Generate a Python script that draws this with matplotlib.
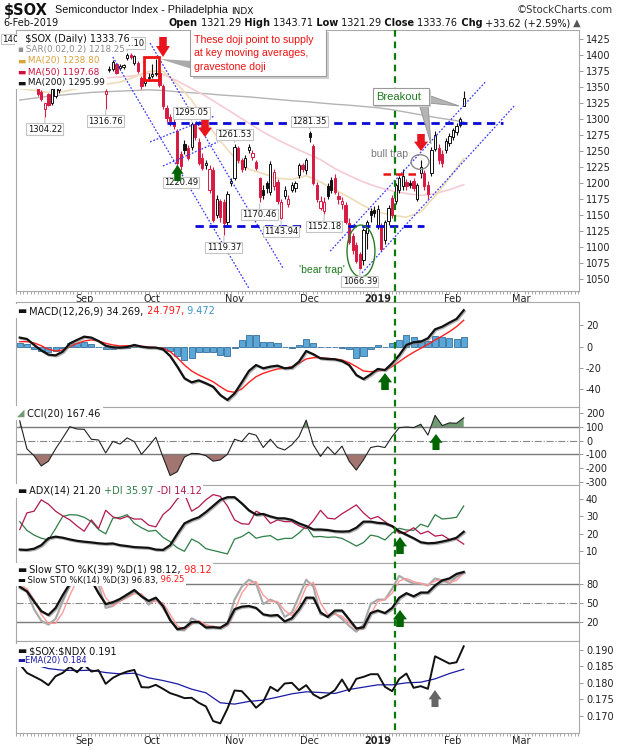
import matplotlib
matplotlib.use("Agg")
import numpy as np
import matplotlib.pyplot as plt
import matplotlib.patheffects as pe
from matplotlib.patches import Rectangle, Ellipse, Polygon
from matplotlib.lines import Line2D
from matplotlib.offsetbox import TextArea, HPacker, AnnotationBbox

plt.rcParams['font.family'] = ['DejaVu Sans']
plt.rcParams['axes.unicode_minus'] = False

# x = trading-day number, 0 = 4-Sep-2018, 106 = 6-Feb-2019
month_pos = [0, 19, 42, 63, 82, 103, 122]
month_names = ['Sep', 'Oct', 'Nov', 'Dec', '2019', 'Feb', 'Mar']

# daily candles, sessions -17 .. 106
bar_first = -17
opens = [1372, 1362, 1356, 1354, 1350, 1342, 1316, 1339, 1326, 1337,
         1345, 1360, 1370, 1378, 1386, 1380, 1392, 1388, 1374, 1368,
         1362, 1364, 1360, 1340, 1377, 1379, 1386, 1380, 1382, 1395,
         1400, 1388, 1388, 1364, 1356, 1364, 1368, 1370, 1372, 1352,
         1318, 1304, 1296, 1282, 1245, 1262, 1255, 1256, 1292, 1265,
         1240, 1228, 1190, 1220, 1150, 1172, 1170, 1140, 1200, 1208,
         1255, 1236, 1225, 1252, 1241, 1233, 1208, 1190, 1200, 1186,
         1195, 1202, 1145, 1180, 1168, 1190, 1192, 1213, 1228, 1220,
         1279, 1259, 1198, 1162, 1156, 1195, 1205, 1208, 1180, 1168,
         1166, 1138, 1118, 1103, 1090, 1080, 1122, 1156, 1158, 1135,
         1132, 1112, 1141, 1177, 1172, 1190, 1196, 1202, 1200, 1204,
         1176, 1216, 1216, 1198, 1216, 1254, 1255, 1245, 1252, 1263,
         1273, 1280, 1291, 1321.29]
highs = [1380, 1366, 1362, 1360, 1352, 1345, 1326, 1341, 1349, 1355,
         1360, 1372, 1380, 1390, 1395, 1392, 1400, 1392, 1380, 1372,
         1370, 1368, 1366, 1347, 1384, 1392, 1388, 1387, 1386, 1404.10,
         1403, 1401, 1391, 1368, 1366, 1372, 1386, 1394, 1375, 1355,
         1322, 1308, 1300, 1285, 1250, 1268, 1260, 1295.05, 1294, 1270,
         1248, 1236, 1228, 1225, 1182, 1176, 1175, 1188, 1208, 1261.53,
         1258, 1240, 1244, 1262, 1252, 1236, 1210, 1198, 1204, 1235,
         1222, 1206, 1175, 1195, 1182, 1202, 1204, 1232, 1232, 1240,
         1281.35, 1262, 1202, 1180, 1178, 1200, 1210, 1214, 1186, 1178,
         1170, 1145, 1122, 1108, 1092, 1130, 1143, 1162, 1165, 1166,
         1138, 1143, 1166, 1182, 1200, 1212, 1222, 1206, 1205, 1208,
         1200, 1236, 1220, 1204, 1256, 1282, 1262, 1252, 1270, 1278,
         1286, 1294, 1304, 1343.71]
lows = [1360, 1350, 1349, 1349, 1336, 1328, 1304.22, 1320, 1322, 1333,
        1341, 1357, 1364, 1372, 1378, 1374, 1384, 1370, 1362, 1358,
        1357, 1356, 1355, 1316.76, 1374, 1376, 1370, 1377, 1378, 1392,
        1394, 1385, 1372, 1348, 1352, 1360, 1365, 1367, 1350, 1316,
        1296, 1290, 1285, 1229, 1220.49, 1245, 1236, 1252, 1268, 1228,
        1220, 1222, 1185, 1140, 1145, 1140, 1119.37, 1135, 1195, 1205,
        1232, 1218, 1220, 1248, 1236, 1220, 1170.46, 1176, 1185, 1182,
        1190, 1168, 1143.94, 1176, 1163, 1186, 1186, 1208, 1218, 1215,
        1265, 1198, 1170, 1158, 1152.18, 1175, 1185, 1184, 1168, 1160,
        1136, 1105, 1090, 1075, 1066.39, 1072, 1098, 1140, 1148, 1128,
        1094, 1105, 1135, 1145, 1168, 1185, 1190, 1190, 1192, 1188,
        1172, 1208, 1190, 1176, 1212, 1250, 1230, 1226, 1248, 1258,
        1268, 1276, 1288, 1321.29]
closes = [1365, 1354, 1352, 1357, 1340, 1332, 1325, 1322, 1347, 1352,
          1358, 1370, 1376, 1386, 1382, 1390, 1387, 1375, 1366, 1362,
          1366, 1359, 1358, 1344, 1379, 1390, 1373, 1383, 1385, 1401,
          1397, 1399, 1375, 1352, 1362, 1366, 1370, 1373, 1354, 1320,
          1302, 1298, 1290, 1232, 1227, 1252, 1240, 1292, 1272, 1232,
          1224, 1231, 1222, 1143, 1175, 1148, 1138, 1184, 1203, 1256,
          1237, 1222, 1240, 1256, 1248, 1224, 1178, 1182, 1193, 1230,
          1218, 1172, 1171, 1190, 1176, 1198, 1200, 1229, 1222, 1236,
          1273, 1201, 1175, 1172, 1171, 1180, 1190, 1187, 1175, 1172,
          1140, 1108, 1095, 1078, 1068, 1127, 1140, 1150, 1153, 1160,
          1097, 1140, 1162, 1150, 1197, 1208, 1212, 1195, 1198, 1192,
          1197, 1226, 1196, 1183, 1252, 1276, 1236, 1232, 1266, 1274,
          1283, 1290, 1300.14, 1333.76]

# moving averages, read every 4th session from -18
ma_first, ma_step = -18, 4
ma20 = [1348, 1345, 1342, 1343, 1348, 1353, 1355, 1358, 1366, 1375,
        1375, 1355, 1330, 1296, 1266, 1240, 1222, 1215, 1208, 1206,
        1212, 1202, 1190, 1178, 1165, 1155, 1150, 1147, 1155, 1180,
        1208, 1238.80]
ma50 = [1375, 1373, 1370, 1368, 1367, 1366, 1365, 1366, 1368, 1372,
        1370, 1360, 1348, 1336, 1322, 1308, 1294, 1280, 1268, 1257,
        1247, 1237, 1223, 1212, 1202, 1194, 1188, 1184, 1181, 1184,
        1190, 1197.68]
ma200 = [1330, 1333, 1336, 1338, 1340, 1342, 1343, 1344, 1345, 1346,
         1345, 1343, 1341.5, 1340, 1338, 1336.5, 1335, 1333, 1331, 1329,
         1327.5, 1325.5, 1323.5, 1322, 1320, 1318, 1315, 1311, 1307, 1303,
         1299.5, 1295.99]

# indicators, read every 2nd session from -18
ind_first, ind_step = -18, 2
macd_line = [8.5, 7.2, 1.6, -3.5, -7.5, -8.2, -4.7, 3.1, 6.3, 9.4,
             8.5, 5.3, 0.9, -0.6, -0.9, -0.3, 1.6, 0.0, -0.9, -0.9,
             -2.5, -8.8, -18.8, -29.8, -33.6, -31.7, -34.5, -37.7, -45.5, -50.2,
             -44.0, -33.6, -22.9, -17.3, -20.4, -18.8, -17.9, -20.4, -19.8, -14.1,
             -4.1, -7.2, -11.0, -11.6, -11.9, -13.5, -17.3, -26.7, -30.5, -26.1,
             -21.0, -22.0, -15.7, -7.9, 1.6, 4.1, 4.7, 7.9, 16.3, 18.8,
             22.6, 26.1, 34.27]
macd_signal = [4.7, 4.7, 3.5, 0.9, -2.5, -4.1, -3.1, 0.0, 3.1, 5.3,
               6.3, 5.3, 3.1, 1.6, 0.6, 0.9, 0.9, 0.3, -0.3, -0.9,
               -1.6, -4.7, -10.4, -17.3, -22.9, -26.7, -29.8, -33.0, -37.7, -41.8,
               -43.0, -39.9, -33.6, -28.3, -25.1, -22.9, -21.0, -20.4, -18.8, -15.7,
               -11.6, -10.4, -10.4, -11.0, -11.6, -12.6, -15.1, -18.8, -22.9, -23.6,
               -22.9, -22.0, -18.8, -14.1, -9.4, -5.3, -1.6, 2.2, 6.3, 10.0,
               14.1, 18.8, 24.80]
macd_hist = [3.8, 2.5, -1.9, -4.4, -5.0, -4.1, -1.6, 3.1, 3.2, 4.1,
             2.2, 0.0, -2.2, -2.2, -1.5, -1.2, 0.7, -0.3, -0.6, 0.0,
             -0.9, -4.1, -8.4, -12.5, -10.7, -5.0, -4.7, -4.7, -7.8, -8.4,
             -1.0, 6.3, 10.7, 11.0, 4.7, 4.1, 3.1, 0.0, -1.0, 1.6,
             7.5, 3.2, -0.6, -0.6, -0.3, -0.9, -2.2, -10.5, -9.0, -2.5,
             1.9, 0.0, 3.1, 6.2, 11.0, 9.4, 6.3, 5.7, 10.0, 8.8,
             8.5, 7.3, 9.47]
cci = [145, -60, -110, -185, -150, -60, 20, 102, 85, 83,
       10, 5, -90, -5, -25, 20, -7, -100, -40, 25,
       -120, -255, -227, -120, -93, -95, -110, -150, -141, -100,
       10, -7, 54, 40, -50, 10, -50, -68, -30, 30,
       150, -30, -115, -45, -100, -40, -150, -215, -140, -50,
       -40, -50, 30, 95, 100, 95, 120, 41, 185, 110,
       130, 127, 167.46]
adx = [11.0, 10.8, 11.5, 13.5, 17.5, 18.4, 17.8, 16.8, 16.0, 15.5,
       15.1, 14.6, 14.3, 14.5, 13.5, 13.0, 12.4, 12.2, 12.0, 11.0,
       10.8, 13.5, 20.0, 26.0, 28.0, 29.5, 32.5, 36.0, 39.5, 41.0,
       41.0, 37.5, 33.5, 31.0, 31.4, 30.0, 28.9, 28.9, 28.0, 26.0,
       24.5, 22.5, 22.5, 22.2, 21.5, 21.3, 21.5, 23.5, 27.0, 27.0,
       26.3, 26.0, 24.5, 21.5, 19.5, 17.5, 15.2, 14.6, 14.8, 15.6,
       16.5, 17.8, 21.20]
plus_di = [27, 22, 19.3, 17.5, 16.5, 23, 30, 31, 30.8, 29.5,
           27, 22.5, 20, 29, 29.5, 31, 26, 23.5, 21.5, 22,
           18, 15.5, 12, 10, 17, 15, 11.5, 10.5, 9.5, 8.5,
           17, 18.4, 21, 17.5, 18.5, 19, 16.5, 17.4, 17.4, 20.5,
           24.5, 18.3, 18.5, 18, 18.2, 17.4, 15.3, 13, 15, 19.3,
           18.5, 16.5, 20.5, 23.2, 22.2, 22, 25.5, 24, 31, 28.5,
           28.9, 29.5, 35.97]
minus_di = [22.5, 32, 33, 39.5, 37, 33, 30.3, 28, 24.5, 21.5,
            28, 23, 33.5, 29.8, 28.5, 30, 28.5, 28.5, 25, 24,
            31, 34.5, 40, 43, 33, 35.5, 39.5, 42.5, 41.5, 36,
            28, 25.8, 25.5, 33, 31, 26, 28, 27, 27, 24.6,
            23, 27.5, 33.5, 29, 28.5, 31.5, 34, 36.6, 32, 28.5,
            30, 27, 24.1, 20.3, 21, 23.5, 20, 21.5, 18.7, 19.3,
            16.8, 16.9, 14.12]
sto39_k = [75, 68, 52, 37, 31, 42, 62, 80, 90, 92,
           85, 65, 48, 51, 56, 63, 70, 60, 53, 58,
           45, 23, 9, 11, 20, 20, 11.5, 12, 11, 18,
           40, 44, 45, 42, 32, 30, 31, 21, 26, 40,
           58, 58, 35, 28, 38, 38, 24, 10, 12, 34,
           38, 34, 42, 58, 65, 60, 66, 66, 77, 85,
           88, 95, 98.12]
sto14_k = [73, 67, 40, 22, 16, 25, 52, 78, 92, 94,
           90, 78, 42, 45, 56, 60, 68, 62, 47, 57,
           42, 24, 8, 7, 26, 20, 13, 13, 11, 18,
           55, 75, 86, 80, 48, 55, 50, 28, 35, 60,
           86, 75, 32, 29, 34, 25, 14, 5, 16, 48,
           55, 55, 72, 92, 85, 80, 80, 77, 88, 85,
           80, 90, 96.83]
sto14_d = [78, 72, 55, 32, 18, 18, 35, 62, 85, 92,
           92, 85, 58, 45, 52, 58, 64, 64, 52, 52,
           50, 32, 14, 8, 17, 22, 16, 13, 12, 14,
           38, 65, 80, 83, 62, 52, 52, 38, 30, 48,
           75, 82, 50, 32, 32, 29, 19, 9, 9, 32,
           52, 55, 65, 84, 88, 83, 80, 78, 84, 86,
           82, 85, 96.25]
sox_ndx = [0.1856, 0.1830, 0.1819, 0.1808, 0.1793, 0.1820, 0.1830, 0.1848, 0.1832, 0.1854,
           0.1834, 0.1838, 0.1797, 0.1815, 0.1826, 0.1834, 0.1839, 0.1787, 0.1786, 0.1794,
           0.1782, 0.1769, 0.1762, 0.1754, 0.1755, 0.1740, 0.1729, 0.1685, 0.1678, 0.1722,
           0.1777, 0.1775, 0.1752, 0.1725, 0.1743, 0.1788, 0.1775, 0.1798, 0.1800, 0.1778,
           0.1793, 0.1765, 0.1753, 0.1763, 0.1778, 0.1810, 0.1775, 0.1812, 0.1818, 0.1826,
           0.1826, 0.1788, 0.1775, 0.1812, 0.1828, 0.1785, 0.1790, 0.1782, 0.1880, 0.1869,
           0.1858, 0.1862, 0.1910]
ema_first = -14
sox_ndx_ema = [0.1855, 0.1843, 0.1838, 0.1837, 0.1838, 0.1831, 0.1827, 0.1829, 0.1815, 0.1807,
               0.1797, 0.1781, 0.1770, 0.1740, 0.1736, 0.1744, 0.1748, 0.1757, 0.1767, 0.1773,
               0.1771, 0.1768, 0.1780, 0.1787, 0.1794, 0.1794, 0.1800, 0.1802, 0.1812, 0.1828,
               0.1841]

# chart notes
label_bars = [-11, 6, 12, 30, 42, 63, 27, 39, 49, 55, 67, 77]
label_values = [1304.22, 1316.76, 1404.10, 1295.05, 1261.53, 1281.35,
                1220.49, 1119.37, 1170.46, 1143.94, 1152.18, 1066.39]
trendlines = [((8.0, 1397.3), (46.0, 1036.0)), ((18.4, 1419.0), (55.5, 1067.7)),
              ((18.4, 1264.7), (36.5, 1305.3)), ((22.0, 1227.0), (37.4, 1264.7)),
              ((68.7, 1094.0), (112.0, 1358.0)), ((77.6, 1060.0), (120.3, 1322.0))]
resistance, support, trap_level = 1294, 1134, 1215
signal_day = 86.8

# ------------------------------------------------------------------ layout
W, H = 620, 750
PX_L, PX_R = 16, 579
X0, X1 = -19.05, 138.2
RED, BLACK = '#d81b43', '#111111'

fig = plt.figure(figsize=(6.2, 7.5), dpi=100)
fig.patch.set_facecolor('white')


def fpt(x, y):
    return x / W, 1 - y / H


def panel(top, bottom, ylim, yticks, ylabels=None):
    a = fig.add_axes([PX_L / W, 1 - bottom / H, (PX_R - PX_L) / W, (bottom - top) / H])
    a.set_xlim(X0, X1)
    a.set_ylim(*ylim)
    a.yaxis.tick_right()
    a.set_yticks(yticks)
    if ylabels:
        a.set_yticklabels(ylabels)
    a.tick_params(axis='y', labelsize=7, length=3, width=0.6, color='#888888', pad=2, labelcolor='#222222')
    a.set_xticks([])
    for s in a.spines.values():
        s.set_color('#a8a8a8')
        s.set_linewidth(0.8)
    return a


def month_axis(a):
    a.set_xticks(month_pos)
    a.set_xticklabels(month_names)
    a.set_xticks(list(range(-19, 139)), minor=True)
    a.tick_params(axis='x', which='major', length=0, labelsize=7, pad=2, labelcolor='#222222')
    a.tick_params(axis='x', which='minor', length=1.8, width=0.6, color='#9a9a9a')
    for t in a.get_xticklabels():
        if t.get_text() == '2019':
            t.set_fontweight('bold')


def rich(x, y, parts, size=7, ha=0.0, bg='white', family=None):
    kids = []
    for txt, col, bold in parts:
        props = dict(color=col, fontsize=size, fontweight='bold' if bold else 'normal')
        if family:
            props['family'] = family
        kids.append(TextArea(txt, textprops=props))
    box = HPacker(children=kids, align='baseline', pad=0, sep=0)
    ab = AnnotationBbox(box, fpt(x, y), xycoords='figure fraction', box_alignment=(ha, 0.5),
                        frameon=bg is not None, pad=0.12, zorder=22)
    if bg is not None:
        ab.patch.set_facecolor(bg)
        ab.patch.set_edgecolor('none')
    fig.add_artist(ab)


def block_arrow(xc, y_tip, y_base, w, color):
    hh = (y_base - y_tip) * 0.55
    sw = w * 0.27
    pts = [(xc, y_tip), (xc + w / 2, y_tip + hh), (xc + sw, y_tip + hh), (xc + sw, y_base),
           (xc - sw, y_base), (xc - sw, y_tip + hh), (xc - w / 2, y_tip + hh)]
    fig.add_artist(Polygon([fpt(*p) for p in pts], closed=True, transform=fig.transFigure,
                           fc=color, ec='none', zorder=25))


def fig_poly(pts, fc, ec='none', z=21, lw=0.6):
    fig.add_artist(Polygon([fpt(*p) for p in pts], closed=True, transform=fig.transFigure,
                           fc=fc, ec=ec, lw=lw, zorder=z))


shadow = [pe.SimpleLineShadow(offset=(0.8, -0.8), shadow_color='#808080', alpha=0.6), pe.Normal()]

bars_x = list(range(bar_first, bar_first + len(closes)))
ma_x = list(range(ma_first, ma_first + ma_step * len(ma20), ma_step))
ind_x = list(range(ind_first, ind_first + ind_step * len(macd_line), ind_step))
ema_x = list(range(ema_first, ema_first + 4 * len(sox_ndx_ema), 4))

# ------------------------------------------------------------------ price panel
ax = panel(30, 291, (1031.7, 1439.5), list(range(1050, 1426, 25)))
month_axis(ax)
ax.plot(ma_x, ma200, color='#b4b4b4', lw=1.0, zorder=2)
ax.plot(ma_x, ma50, color='#f6ccd4', lw=1.2, zorder=2)
ax.plot(ma_x, ma20, color='#efdcb8', lw=1.2, zorder=2)

prev = [opens[0]] + closes[:-1]
edge = [RED if c < p else BLACK for c, p in zip(closes, prev)]
face = ['white' if c >= o else e for o, c, e in zip(opens, closes, edge)]
ax.vlines(bars_x, lows, highs, colors=edge, lw=0.8, zorder=3)
ax.bar(bars_x, [max(abs(c - o), 0.9) for o, c in zip(opens, closes)],
       bottom=[min(o, c) for o, c in zip(opens, closes)], width=0.62,
       color=face, edgecolor=edge, linewidth=0.7, zorder=4)

for (xa, ya), (xb, yb) in trendlines:
    ax.plot([xa, xb], [ya, yb], color='#3535ff', lw=0.9, ls=(0, (1.4, 1.4)), zorder=5)
ax.hlines(resistance, 23, 117, color='#0a0ad8', lw=2, ls=(0, (3, 2)), zorder=5)
ax.hlines(support, 31, 95, color='#0a0ad8', lw=2, ls=(0, (3, 2)), zorder=5)
ax.hlines(trap_level, 83.5, 94, color='#ee1111', lw=1.8, ls=(0, (3, 2)), zorder=5)

ax.add_patch(Rectangle((16.7, 1361.4), 4.2, 35.9, fill=False, ec='#ee1111', lw=2, zorder=6))
ax.add_patch(Ellipse((77.3, 1094.2), 7.8, 81, fill=False, ec='#2a7a2a', lw=1, zorder=6))
ax.add_patch(Ellipse((93.8, 1233.3), 5.0, 23, fill=False, ec='#888888', lw=1, zorder=6))
ax.text(66.4, 1064.8, "'bear trap'", color='#1f7a1f', fontsize=7.5, ha='center', va='center',
        family=['Liberation Sans', 'DejaVu Sans'], zorder=7)
ax.text(85.4, 1245.9, 'bull trap', color='#777777', fontsize=7.5, ha='center', va='center',
        family=['Liberation Sans', 'DejaVu Sans'], zorder=7)

for b, v in zip(label_bars, label_values):
    above = v >= highs[b - bar_first] - 0.01
    ax.annotate(f'{v:.2f}', xy=(b, v), xytext=(0, 9.5 if above else -12.5), textcoords='offset pixels',
                ha='center', va='center', fontsize=6, color='#111111', zorder=7,
                bbox=dict(boxstyle='square,pad=0.15', fc='white', ec='#c4c4c4', lw=0.8),
                arrowprops=dict(arrowstyle='-', color='#c4c4c4', lw=0.8, shrinkA=0, shrinkB=1))

# ------------------------------------------------------------------ MACD
ax2 = panel(302, 407, (-56.8, 42), [-40, -20, 0, 20])
ax2.bar(ind_x, macd_hist, width=1.7, color='#5aa7d8', edgecolor='#1d5b8c', lw=0.5, zorder=2)
ax2.plot(ind_x, macd_signal, color='#ff2020', lw=1.0, zorder=3)
ax2.plot(ind_x, macd_line, color=BLACK, lw=1.6, zorder=4, path_effects=shadow)

# ------------------------------------------------------------------ CCI
ax3 = panel(407, 485, (-324, 246), [-300, -200, -100, 0, 100, 200])
c = np.array(cci, dtype=float)
ax3.fill_between(ind_x, c, 100, where=c > 100, interpolate=True, color='#6f9a72', lw=0, zorder=1)
ax3.fill_between(ind_x, c, -100, where=c < -100, interpolate=True, color='#a37570', lw=0, zorder=1)
ax3.axhline(100, color='#7a7a7a', lw=1, zorder=2)
ax3.axhline(-100, color='#7a7a7a', lw=1, zorder=2)
ax3.axhline(0, color='#888888', lw=0.8, ls='-.', zorder=2)
ax3.plot(ind_x, cci, color='#222222', lw=0.8, zorder=3)

# ------------------------------------------------------------------ ADX
ax4 = panel(485, 563, (3.3, 48), [10, 20, 30, 40])
ax4.plot(ind_x, plus_di, color='#2d7d46', lw=0.9, zorder=2)
ax4.plot(ind_x, minus_di, color='#b3184b', lw=0.9, zorder=2)
ax4.plot(ind_x, adx, color=BLACK, lw=1.6, zorder=3, path_effects=shadow)

# ------------------------------------------------------------------ stochastics
ax5 = panel(563, 641, (-9.5, 112), [20, 50, 80])
ax5.axhline(80, color='#7a7a7a', lw=1, zorder=1)
ax5.axhline(20, color='#7a7a7a', lw=1, zorder=1)
ax5.axhline(50, color='#888888', lw=0.8, ls='-.', zorder=1)
ax5.plot(ind_x, sto14_k, color='#a8a8a8', lw=1.5, zorder=2)
ax5.plot(ind_x, sto14_d, color='#ff9a9a', lw=1.0, zorder=3)
ax5.plot(ind_x, sto39_k, color=BLACK, lw=1.6, zorder=4, path_effects=shadow)

# ------------------------------------------------------------------ SOX:NDX
ax6 = panel(641, 733, (0.1649, 0.1926), [0.170, 0.175, 0.180, 0.185, 0.190],
            ['0.170', '0.175', '0.180', '0.185', '0.190'])
month_axis(ax6)
ax6.plot(ema_x, sox_ndx_ema, color='#1a1aa6', lw=0.9, zorder=2)
ax6.plot(ind_x, sox_ndx, color=BLACK, lw=1.4, zorder=3)

# ------------------------------------------------------------------ figure-level notes
xs = PX_L + (signal_day - X0) * (PX_R - PX_L) / (X1 - X0)
fig.add_artist(Line2D([xs / W, xs / W], [fpt(0, 30)[1], fpt(0, 733)[1]], transform=fig.transFigure,
                      color='#0b7a0b', lw=1.6, ls=(0, (3, 2.2)), zorder=15))

# doji callout
fig_poly([(160, 59), (192, 61), (192, 69)], '#aaaaaa', z=19)
fig.add_artist(Rectangle(fpt(193, 79), 136 / W, 47 / H, transform=fig.transFigure, fc='#cfcfcf', ec='none', zorder=19))
fig.add_artist(Rectangle(fpt(190, 76), 136 / W, 47 / H, transform=fig.transFigure, fc='white', ec='#9a9a9a', lw=0.8, zorder=20))
for k, line in enumerate(['These doji point to supply', 'at key moving averages,', 'gravestone doji']):
    fig.text(*fpt(194, 40 + 13.5 * k), line, color='#ee1111', fontsize=7.6, va='center',
             family=['Liberation Sans', 'DejaVu Sans'], zorder=21)

# breakout callout
fig_poly([(428, 95), (428, 103), (459, 106)], '#b4b4b4', '#909090', z=19)
fig_poly([(419, 104), (428, 104), (431, 144)], '#b4b4b4', '#909090', z=19)
fig.add_artist(Rectangle(fpt(375, 107), 56 / W, 17 / H, transform=fig.transFigure, fc='#cfcfcf', ec='none', zorder=19))
fig.add_artist(Rectangle(fpt(373, 105), 56 / W, 17 / H, transform=fig.transFigure, fc='white', ec='#9a9a9a', lw=0.8, zorder=20))
fig.text(*fpt(376, 96.5), 'Breakout', color='#1f7a1f', fontsize=8, va='center',
         family=['Liberation Sans', 'DejaVu Sans'], zorder=21)

for xc, yt, yb, w in [(163, 57, 37, 14), (205, 137, 120, 14), (421, 151, 134, 14)]:
    block_arrow(xc, yt, yb, w, '#e8141e')
for xc, yt, yb, w in [(177.5, 165, 181, 12), (385, 373, 390, 14), (436, 434, 450, 13),
                      (400, 537, 554, 14), (400, 610, 627, 14)]:
    block_arrow(xc, yt, yb, w, '#006400')
block_arrow(435, 690, 707, 13, '#666666')

# header
fig.text(*fpt(4, 10), '$SOX', fontsize=10.5, fontweight='bold', va='center', color=BLACK)
fig.text(*fpt(55, 10), 'Semiconductor Index - Philadelphia', fontsize=7.8, va='center', color=BLACK,
         family=['Liberation Sans', 'DejaVu Sans'])
fig.text(*fpt(231, 11), 'INDX', fontsize=6.5, va='center', color=BLACK)
fig.text(*fpt(613, 10), '\u00a9StockCharts.com', fontsize=7.3, va='center', ha='right', color='#333333')
fig.text(*fpt(3, 23), '6-Feb-2019', fontsize=7, va='center', color=BLACK)
rich(581, 23, [('Open', BLACK, True), (' 1321.29', BLACK, False), (' High', BLACK, True),
               (' 1343.71', BLACK, False), (' Low', BLACK, True), (' 1321.29', BLACK, False),
               (' Close', BLACK, True), (' 1333.76', BLACK, False), (' Chg', BLACK, True),
               (' +33.62 (+2.59%)', BLACK, False), (' \u25b2', '#555555', False)], size=7, ha=1.0)
fig.text(*fpt(2, 39), '140', fontsize=6.2, va='center', color=BLACK, zorder=21,
         bbox=dict(boxstyle='square,pad=0.1', fc='white', ec='#c4c4c4', lw=0.8))

# panel legends
rich(19, 38.5, [('  \\$SOX (Daily) 1333.76', BLACK, False)], size=7)
rich(17, 49.5, [('\u25aa', '#909090', False), (' SAR(0.02,0.2) 1218.25', '#8a8a8a', False)], size=6.3)
rich(17, 61, [('\u25ac', '#d9a23b', False), (' MA(20) 1238.80', '#d9a23b', False)], size=6.4)
rich(17, 72, [('\u25ac', '#d0103a', False), (' MA(50) 1197.68', '#d0103a', False)], size=6.4)
rich(17, 83, [('\u25ac', BLACK, False), (' MA(200) 1295.99', BLACK, False)], size=6.4)
rich(17, 311, [('\u25ac', BLACK, False), (' MACD(12,26,9) 34.269,', BLACK, False),
               (' 24.797,', '#ff1a1a', False), (' 9.472', '#3d95c8', False)], size=7)
rich(17, 413, [('\u25e2', '#6f9a72', False), (' CCI(20) 167.46', BLACK, False)], size=7)
rich(17, 491, [('\u25ac', BLACK, False), (' ADX(14) 21.20', BLACK, False),
               (' +DI 35.97', '#2d7d46', False), (' -DI 14.12', '#b3184b', False)], size=7)
rich(17, 570, [('\u25ac', BLACK, False), (' Slow STO %K(39) %D(1) 98.12,', BLACK, False),
               (' 98.12', '#ff1a1a', False)], size=7)
rich(17, 580, [('\u25ac', BLACK, False), (' Slow STO %K(14) %D(3) 96.83,', BLACK, False),
               (' 96.25', '#ff1a1a', False)], size=6)
rich(17, 651, [('\u25ac', BLACK, False), (' \\$SOX:\\$NDX 0.191', BLACK, False)], size=7)
rich(17, 661, [('\u25ac', '#1a1aa6', False), ('EMA(20) 0.184', '#1a1aa6', False)], size=6)

fig.savefig('out.png', dpi=100, facecolor='white')
